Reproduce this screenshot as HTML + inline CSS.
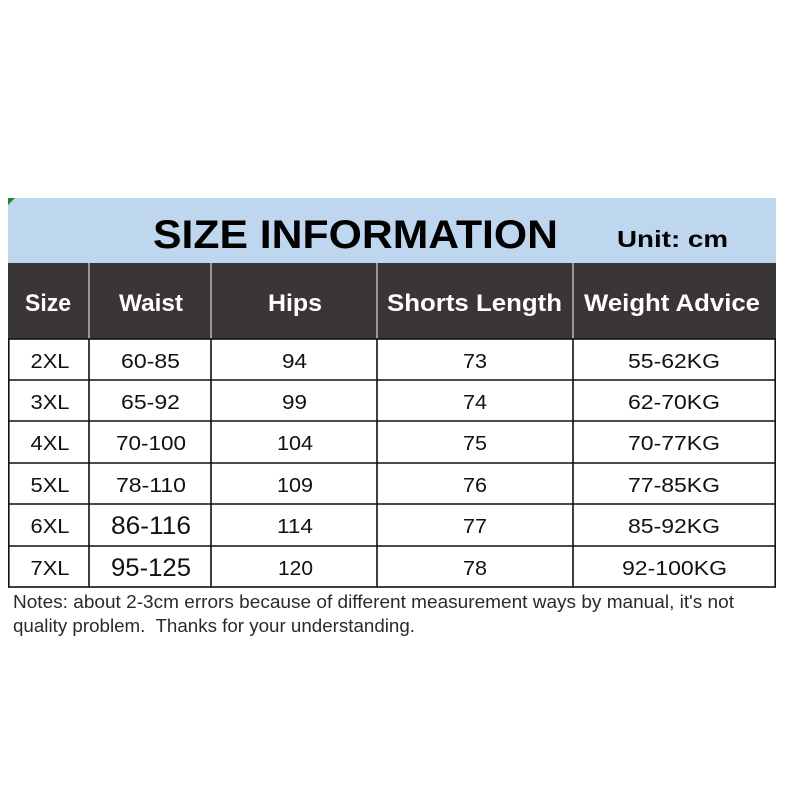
<!DOCTYPE html>
<html><head><meta charset="utf-8"><style>
html,body{margin:0;padding:0;background:#fff;}
svg{display:block;}
text{font-family:"Liberation Sans",Arial,sans-serif;}
</style></head><body>
<svg width="800" height="800" viewBox="0 0 800 800" xmlns="http://www.w3.org/2000/svg">
<rect width="800" height="800" fill="#fff"/>
<!-- blue title band -->
<rect x="8" y="198" width="768" height="65" fill="#bfd7ee"/>
<polygon points="8,198 15,198 8,205" fill="#1e8a2e"/>
<text x="153" y="248" font-size="40" font-weight="bold" fill="#000" textLength="405" lengthAdjust="spacingAndGlyphs">SIZE INFORMATION</text>
<text x="617" y="247" font-size="23" font-weight="bold" fill="#000" textLength="111" lengthAdjust="spacingAndGlyphs">Unit: cm</text>
<!-- dark header row -->
<rect x="8" y="263" width="768" height="76" fill="#3a3636"/>
<g stroke="#b8b8b8" stroke-width="1.5">
<line x1="89" y1="263" x2="89" y2="339"/>
<line x1="211" y1="263" x2="211" y2="339"/>
<line x1="377" y1="263" x2="377" y2="339"/>
<line x1="573" y1="263" x2="573" y2="339"/>
</g>
<g font-size="24" font-weight="bold" fill="#fff">
<text x="25" y="311" textLength="46" lengthAdjust="spacingAndGlyphs">Size</text>
<text x="119" y="311" textLength="64" lengthAdjust="spacingAndGlyphs">Waist</text>
<text x="268" y="311" textLength="54" lengthAdjust="spacingAndGlyphs">Hips</text>
<text x="387" y="311" textLength="175" lengthAdjust="spacingAndGlyphs">Shorts Length</text>
<text x="584" y="311" textLength="176" lengthAdjust="spacingAndGlyphs">Weight Advice</text>
</g>
<!-- body grid -->
<g stroke="#111" stroke-width="1.6" fill="none">
<rect x="8.8" y="339" width="766.4" height="248"/>
<line x1="8" y1="380" x2="776" y2="380"/>
<line x1="8" y1="421" x2="776" y2="421"/>
<line x1="8" y1="463" x2="776" y2="463"/>
<line x1="8" y1="504" x2="776" y2="504"/>
<line x1="8" y1="546" x2="776" y2="546"/>
<line x1="89" y1="339" x2="89" y2="587"/>
<line x1="211" y1="339" x2="211" y2="587"/>
<line x1="377" y1="339" x2="377" y2="587"/>
<line x1="573" y1="339" x2="573" y2="587"/>
</g>
<g font-size="20" fill="#111" text-anchor="middle">
<!-- row 1 -->
<text x="50" y="368" textLength="39" lengthAdjust="spacingAndGlyphs">2XL</text>
<text x="150.5" y="368" textLength="59" lengthAdjust="spacingAndGlyphs">60-85</text>
<text x="294.5" y="368" textLength="25" lengthAdjust="spacingAndGlyphs">94</text>
<text x="475" y="368" textLength="24" lengthAdjust="spacingAndGlyphs">73</text>
<text x="674" y="368" textLength="92" lengthAdjust="spacingAndGlyphs">55-62KG</text>
<!-- row 2 -->
<text x="50" y="409" textLength="39" lengthAdjust="spacingAndGlyphs">3XL</text>
<text x="150.5" y="409" textLength="59" lengthAdjust="spacingAndGlyphs">65-92</text>
<text x="294.5" y="409" textLength="25" lengthAdjust="spacingAndGlyphs">99</text>
<text x="475" y="409" textLength="24" lengthAdjust="spacingAndGlyphs">74</text>
<text x="674" y="409" textLength="92" lengthAdjust="spacingAndGlyphs">62-70KG</text>
<!-- row 3 -->
<text x="50" y="450" textLength="39" lengthAdjust="spacingAndGlyphs">4XL</text>
<text x="151" y="450" textLength="70" lengthAdjust="spacingAndGlyphs">70-100</text>
<text x="295" y="450" textLength="36" lengthAdjust="spacingAndGlyphs">104</text>
<text x="475" y="450" textLength="24" lengthAdjust="spacingAndGlyphs">75</text>
<text x="674" y="450" textLength="92" lengthAdjust="spacingAndGlyphs">70-77KG</text>
<!-- row 4 -->
<text x="50" y="492" textLength="39" lengthAdjust="spacingAndGlyphs">5XL</text>
<text x="151" y="492" textLength="70" lengthAdjust="spacingAndGlyphs">78-110</text>
<text x="295" y="492" textLength="36" lengthAdjust="spacingAndGlyphs">109</text>
<text x="475" y="492" textLength="24" lengthAdjust="spacingAndGlyphs">76</text>
<text x="674" y="492" textLength="92" lengthAdjust="spacingAndGlyphs">77-85KG</text>
<!-- row 5 -->
<text x="50" y="533" textLength="39" lengthAdjust="spacingAndGlyphs">6XL</text>
<text x="151" y="534" font-size="25" textLength="80" lengthAdjust="spacingAndGlyphs">86-116</text>
<text x="295" y="533" textLength="36" lengthAdjust="spacingAndGlyphs">114</text>
<text x="475" y="533" textLength="24" lengthAdjust="spacingAndGlyphs">77</text>
<text x="674" y="533" textLength="92" lengthAdjust="spacingAndGlyphs">85-92KG</text>
<!-- row 6 -->
<text x="50" y="575" textLength="39" lengthAdjust="spacingAndGlyphs">7XL</text>
<text x="151" y="576" font-size="25" textLength="80" lengthAdjust="spacingAndGlyphs">95-125</text>
<text x="295.5" y="575" textLength="35" lengthAdjust="spacingAndGlyphs">120</text>
<text x="475" y="575" textLength="24" lengthAdjust="spacingAndGlyphs">78</text>
<text x="674.5" y="575" textLength="105" lengthAdjust="spacingAndGlyphs">92-100KG</text>
</g>
<!-- notes -->
<g font-size="18" fill="#2a2a2a">
<text x="13" y="608" textLength="721" lengthAdjust="spacingAndGlyphs">Notes: about 2-3cm errors because of different measurement ways by manual, it's not</text>
<text x="13" y="632" textLength="402" lengthAdjust="spacingAndGlyphs" xml:space="preserve">quality problem.  Thanks for your understanding.</text>
</g>
</svg>
</body></html>
